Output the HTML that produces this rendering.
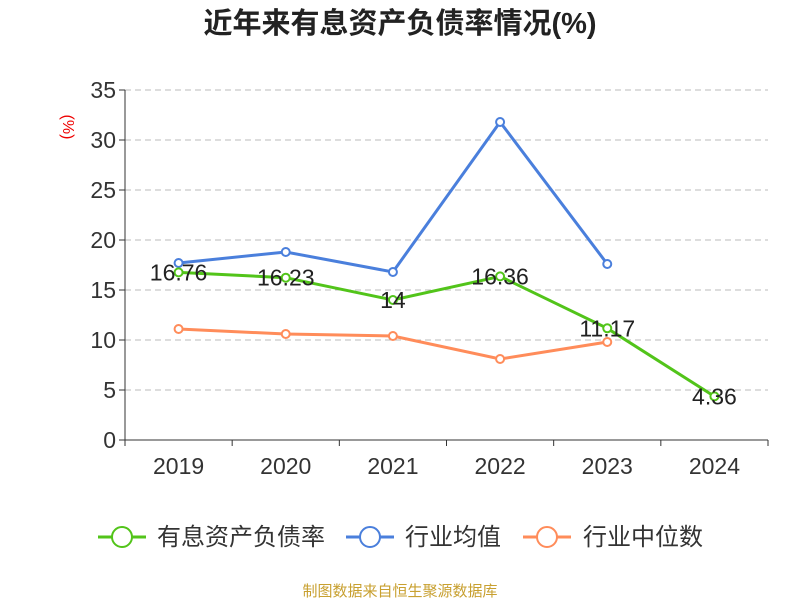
<!DOCTYPE html>
<html><head><meta charset="utf-8"><style>
body{margin:0;background:#fff;}
svg{display:block;font-family:"Liberation Sans","Noto Sans CJK SC",sans-serif;}
</style></head><body>
<svg id="chart" width="800" height="600">
<text x="400" y="33" text-anchor="middle" font-size="29" font-weight="bold" fill="#222">近年来有息资产负债率情况(%)</text>
<text x="63" y="127" text-anchor="middle" font-size="16" fill="#e00" transform="rotate(90 63 127)">(%)</text>
<g id="grid"></g><g id="axes"></g><g id="series"></g>
<g font-size="24" fill="#333">
<g><line x1="98" y1="537" x2="146" y2="537" stroke="#52c41a" stroke-width="3"/><circle cx="122" cy="537" r="10" fill="#fff" stroke="#52c41a" stroke-width="2"/><text x="157" y="545">有息资产负债率</text></g>
<g><line x1="346" y1="537" x2="394" y2="537" stroke="#4a7fdc" stroke-width="3"/><circle cx="370" cy="537" r="10" fill="#fff" stroke="#4a7fdc" stroke-width="2"/><text x="405" y="545">行业均值</text></g>
<g><line x1="523" y1="537" x2="571" y2="537" stroke="#ff8c5a" stroke-width="3"/><circle cx="547" cy="537" r="10" fill="#fff" stroke="#ff8c5a" stroke-width="2"/><text x="583" y="545">行业中位数</text></g>
</g>
<text x="400" y="596" text-anchor="middle" font-size="15" fill="#c8a030">制图数据来自恒生聚源数据库</text>
</svg>
<script>
const categories=["2019","2020","2021","2022","2023","2024"];
const debtRatio=[16.76,16.23,14,16.36,11.17,4.36];
const industryAvg=[17.7,18.8,16.8,31.8,17.6];
const industryMedian=[11.1,10.6,10.4,8.1,9.8];
const yTicks=[0,5,10,15,20,25,30,35];
const NS="http://www.w3.org/2000/svg";
const L=125,R=768,T=90,B=440,yMax=35;
const band=(R-L)/categories.length;
const x=i=>L+band*(i+0.5);
const y=v=>B-(v/yMax)*(B-T);
function mk(tag,attrs,parent,text){const e=document.createElementNS(NS,tag);for(const k in attrs)e.setAttribute(k,attrs[k]);if(text!==undefined)e.textContent=text;parent.appendChild(e);return e;}
const grid=document.getElementById('grid'),axes=document.getElementById('axes'),ser=document.getElementById('series');
yTicks.forEach(t=>{
 if(t>0){const g=mk('line',{x1:L,x2:R,y1:y(t),y2:y(t),stroke:'#bbb','stroke-dasharray':'6,4'},grid);
 
 }
 const tk=mk('line',{x1:L-6,x2:L,y1:y(t),y2:y(t),stroke:'#333'},axes);
 
 
 const tl=mk('text',{x:L-9,y:y(t)+8,'text-anchor':'end','font-size':23,fill:'#333'},axes,String(t));
 
 
});
const ya=mk('line',{x1:L,x2:L,y1:T,y2:B,stroke:'#333'},axes);


const xa=mk('line',{x1:L,x2:R,y1:B,y2:B,stroke:'#333'},axes);


for(let i=0;i<=categories.length;i++){const t=mk('line',{x1:L+band*i,x2:L+band*i,y1:B,y2:B+6,stroke:'#333'},axes);
 
 }
categories.forEach((c,i)=>{const t=mk('text',{x:x(i),y:B+34,'text-anchor':'middle','font-size':23,fill:'#333'},axes,c);
 
 });
function series(vals,color,name,labels){
 const p=mk('polyline',{points:vals.map((v,i)=>x(i)+','+y(v)).join(' '),fill:'none',stroke:color,'stroke-width':3},ser);
 
 
 vals.forEach((v,i)=>{const c=mk('circle',{cx:x(i),cy:y(v),r:4,fill:'#fff',stroke:color,'stroke-width':2},ser);
  
  
  if(labels){const t=mk('text',{x:x(i),y:y(v)+8,'text-anchor':'middle','font-size':23,fill:'#222'},ser,String(v));
   
   }
 });
}
series(industryMedian,'#ff8c5a','industry-median',false);
series(industryAvg,'#4a7fdc','industry-avg',false);
series(debtRatio,'#52c41a','debt-ratio',true);
</script>
</body></html>
